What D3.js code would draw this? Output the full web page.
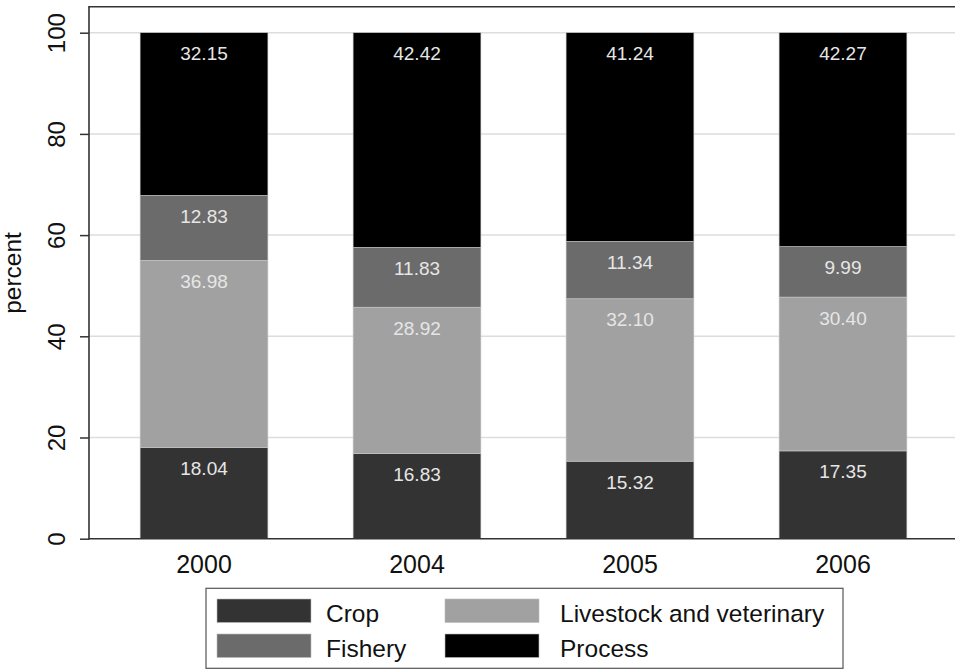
<!DOCTYPE html>
<html>
<head>
<meta charset="utf-8">
<script src="https://cdn.jsdelivr.net/npm/d3@7"></script>
<style>
  body { margin: 0; background: #fff; }
  svg text { font-family: "Liberation Sans", Arial, Helvetica, sans-serif; }
</style>
</head>
<body>
<script>
// data
var years = ["2000", "2004", "2005", "2006"];
var series = ["Crop", "Livestock and veterinary", "Fishery", "Process"];
var crop = [18.04, 16.83, 15.32, 17.35];
var livestock = [36.98, 28.92, 32.10, 30.40];
var fishery = [12.83, 11.83, 11.34, 9.99];
var processing = [32.15, 42.42, 41.24, 42.27];
var yTicks = [0, 20, 40, 60, 80, 100];

var colors = {
    "Crop": "#333333",
    "Livestock and veterinary": "#a1a1a1",
    "Fishery": "#6b6b6b",
    "Process": "#000000"
};

var width = 955, height = 669;

var svg = d3.select("body").append("svg")
    .attr("width", width)
    .attr("height", height);

// build rows for the stack
var rows = years.map(function(yr, i){
    return {
        year: yr,
        "Crop": crop[i],
        "Livestock and veterinary": livestock[i],
        "Fishery": fishery[i],
        "Process": processing[i]
    };
});

var stacked = d3.stack().keys(series)(rows);

var x = d3.scaleBand()
    .domain(years)
    .range([89, 958])
    .paddingInner(0.4)
    .paddingOuter(0.24);

var y = d3.scaleLinear()
    .domain([0, 100])
    .range([538.7, 32.7]);

//gridlines
svg.selectAll(".grid")
    .data(yTicks.filter(function(d){ return d > 0; }))
    .enter().append("line")
    .attr("class", "grid")
    .attr("x1", 89).attr("x2", width)
    .attr("y1", function(d){ return y(d); })
    .attr("y2", function(d){ return y(d); })
    .attr("stroke", "#dddddd")
    .attr("stroke-width", 1.5);

//bars
var layers = svg.selectAll(".layer")
    .data(stacked)
    .enter().append("g")
    .attr("class", "layer")
    .attr("fill", function(d){ return colors[d.key]; });

layers.selectAll("rect")
    .data(function(d){ return d; })
    .enter().append("rect")
    .attr("x", function(d){ return x(d.data.year); })
    .attr("width", x.bandwidth())
    .attr("y", function(d){ return y(d[1]); })
    .attr("height", function(d){ return y(d[0]) - y(d[1]); })
    .attr("stroke", "#c8c8c8")
    .attr("stroke-width", 0.6);

//value labels near top of each segment
layers.selectAll(".val")
    .data(function(d){ return d.map(function(p){ p.key = d.key; return p; }); })
    .enter().append("text")
    .attr("class", "val")
    .attr("x", function(d){ return x(d.data.year) + x.bandwidth() / 2; })
    .attr("y", function(d){ return y(d[1]) + 27.5; })
    .attr("text-anchor", "middle")
    .attr("font-size", 19)
    .attr("fill", "#e6e6e6")
    .text(function(d){ return d.data[d.key].toFixed(2); });

//axes
var yAxis = svg.append("g")
    .attr("transform", "translate(89,0)")
    .call(d3.axisLeft(y).tickValues(yTicks).tickSize(9).tickPadding(0).tickFormat(d3.format("d")));
yAxis.select(".domain").remove();
yAxis.selectAll(".tick line").attr("stroke", "#333").attr("stroke-width", 1.5);
yAxis.selectAll(".tick text")
    .attr("transform", "rotate(-90)")
    .attr("x", 0).attr("y", -24)
    .attr("dy", 0)
    .attr("text-anchor", "middle")
    .attr("font-size", 24)
    .attr("fill", "#111");

var xAxis = svg.append("g")
    .attr("transform", "translate(0,538.7)")
    .call(d3.axisBottom(x).tickSize(0).tickPadding(0));
xAxis.select(".domain").remove();
xAxis.selectAll(".tick text")
    .attr("y", 34.5)
    .attr("dy", 0)
    .attr("font-size", 25)
    .attr("fill", "#111");

//frame lines: left, bottom, top
svg.append("line").attr("x1", 89).attr("x2", 89).attr("y1", 6.7).attr("y2", 539.5)
    .attr("stroke", "#333").attr("stroke-width", 1.6);
svg.append("line").attr("x1", 88.2).attr("x2", width).attr("y1", 538.7).attr("y2", 538.7)
    .attr("stroke", "#333").attr("stroke-width", 1.6);
svg.append("line").attr("x1", 88.2).attr("x2", width).attr("y1", 6.7).attr("y2", 6.7)
    .attr("stroke", "#333").attr("stroke-width", 1.6);

//y title
svg.append("text")
    .attr("transform", "translate(21,273) rotate(-90)")
    .attr("text-anchor", "middle")
    .attr("font-size", 24.5)
    .attr("fill", "#111")
    .text("percent");

//legend
var legend = svg.append("g");
legend.append("rect")
    .attr("x", 206).attr("y", 588.3)
    .attr("width", 637).attr("height", 80)
    .attr("fill", "#fff")
    .attr("stroke", "#555")
    .attr("stroke-width", 1.2);

var legendOrder = ["Crop", "Livestock and veterinary", "Fishery", "Process"];
var items = legend.selectAll(".item")
    .data(legendOrder)
    .enter().append("g")
    .attr("class", "item")
    .attr("transform", function(d, i){
        return "translate(" + (i % 2 === 0 ? 217 : 445) + "," + (599 + Math.floor(i / 2) * 35) + ")";
    });
items.append("rect")
    .attr("width", 94).attr("height", 23.5)
    .attr("fill", function(d){ return colors[d]; })
    .attr("stroke", "#bbb").attr("stroke-width", 0.6);
items.append("text")
    .attr("x", function(d, i){ return i % 2 === 0 ? 109 : 115; })
    .attr("y", 22.5)
    .attr("font-size", 24.5)
    .attr("fill", "#111")
    .text(function(d){ return d; });
</script>
</body>
</html>
